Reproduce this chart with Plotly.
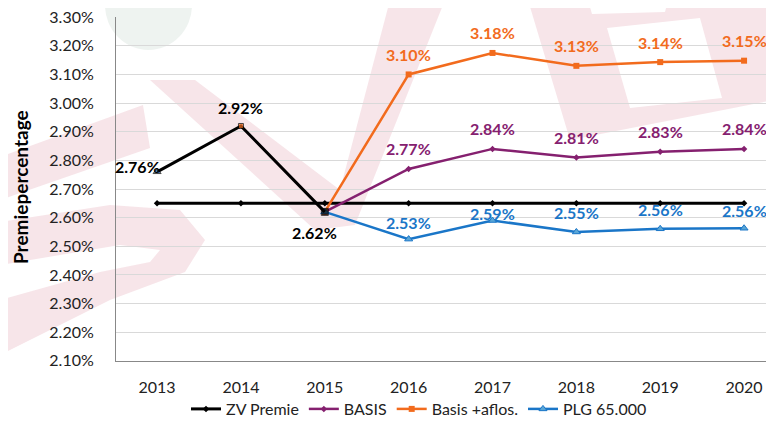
import plotly.graph_objects as go

years = [2013, 2014, 2015, 2016, 2017, 2018, 2019, 2020]
zv_premie = [2.65, 2.65, 2.65, 2.65, 2.65, 2.65, 2.65, 2.65]
hist_years = [2013, 2014, 2015]
historie = [2.76, 2.92, 2.62]
proj_years = [2015, 2016, 2017, 2018, 2019, 2020]
basis = [2.62, 2.77, 2.84, 2.81, 2.83, 2.84]
basis_aflos = [2.62, 3.10, 3.175, 3.13, 3.143, 3.148]
plg = [2.62, 2.525, 2.59, 2.55, 2.561, 2.563]
basis_lbl = [None, "2.77%", "2.84%", "2.81%", "2.83%", "2.84%"]
aflos_lbl = [None, "3.10%", "3.18%", "3.13%", "3.14%", "3.15%"]
plg_lbl = [None, "2.53%", "2.59%", "2.55%", "2.56%", "2.56%"]
hist_lbl = ["2.76%", "2.92%", "2.62%"]
y_ticks = [2.10, 2.20, 2.30, 2.40, 2.50, 2.60, 2.70, 2.80, 2.90, 3.00, 3.10, 3.20, 3.30]
y_ticktext = [f"{v:.2f}%" for v in y_ticks]

BLACK = "#000000"
PURPLE = "#85206f"
ORANGE = "#f26b1d"
BLUE = "#1a76c8"
FONT = "Lato"

# the page body adds an 8px offset; the figure is laid out in reference pixels minus 8
OFF = 8
W, H = 774 - OFF, 421 - OFF
L, R, T, B = 116 - OFF, 0, 17 - OFF, 421 - 361
PW, PH = W - L - R, H - T - B


def px(x):
    return (x - OFF - L) / PW


def py(y):
    return (H - B - (y - OFF)) / PH


def path(pts):
    return "M " + " L ".join(f"{px(x):.4f},{py(y):.4f}" for x, y in pts) + " Z"


fig = go.Figure()

fig.add_trace(go.Scatter(x=years, y=zv_premie, name="ZV Premie", mode="lines+markers",
                         line=dict(color=BLACK, width=3),
                         marker=dict(symbol="diamond", size=5, color=BLACK)))
fig.add_trace(go.Scatter(x=proj_years, y=basis, name="BASIS", mode="lines+markers",
                         line=dict(color=PURPLE, width=2.5),
                         marker=dict(symbol="diamond", size=5, color=PURPLE)))
fig.add_trace(go.Scatter(x=proj_years, y=basis_aflos, name="Basis +aflos.", mode="lines+markers",
                         line=dict(color=ORANGE, width=2.5),
                         marker=dict(symbol="square", size=6, color=ORANGE)))
fig.add_trace(go.Scatter(x=proj_years, y=plg, name="PLG 65.000", mode="lines+markers",
                         line=dict(color=BLUE, width=2.5),
                         marker=dict(symbol="triangle-up", size=7, color="#5aa6d6",
                                     line=dict(color=BLUE, width=1))))
fig.add_trace(go.Scatter(x=hist_years, y=historie, mode="lines+markers", showlegend=False,
                         line=dict(color=BLACK, width=3),
                         marker=dict(symbol=["triangle-up", "square", "square"], size=[7, 5, 7],
                                     color=["#2a6fb0", ORANGE, BLACK])))

LBL = dict(size=16, family=FONT, weight="bold")
ann = []
for x, y, t in zip(proj_years, basis_aflos, aflos_lbl):
    if t:
        ann.append(dict(x=x, y=y, text=t, showarrow=False, yshift=20,
                        font=dict(color=ORANGE, **LBL)))
for x, y, t in zip(proj_years, basis, basis_lbl):
    if t:
        ann.append(dict(x=x, y=y, text=t, showarrow=False, yshift=20,
                        font=dict(color=PURPLE, **LBL)))
plg_shift = [0, 17, 7, 19, 19, 18]
for x, y, t, s in zip(proj_years, plg, plg_lbl, plg_shift):
    if t:
        ann.append(dict(x=x, y=y, text=t, showarrow=False, yshift=s,
                        font=dict(color=BLUE, **LBL)))
hist_shift = [(-20, 5), (0, 18), (-10, -21)]
for x, y, t, (sx, sy) in zip(hist_years, historie, hist_lbl, hist_shift):
    ann.append(dict(x=x, y=y, text=t, showarrow=False, xshift=sx, yshift=sy,
                    font=dict(color=BLACK, **LBL)))

ann.append(dict(xref="paper", yref="paper", x=px(20), y=py(187), xanchor="center",
                yanchor="middle", text="Premiepercentage", textangle=-90, showarrow=False,
                font=dict(size=19, color=BLACK, family=FONT, weight="bold")))

pink = "rgba(190,45,75,0.12)"
shapes = [
    dict(type="circle", xref="paper", yref="paper", x0=px(105), x1=px(192), y0=py(-40), y1=py(50),
         fillcolor="rgba(200,215,205,0.3)", line=dict(width=0), layer="below"),
    # V
    dict(type="path", xref="paper", yref="paper",
         path=path([(150, 80), (195, 80), (340, 190), (390, 0), (445, 0), (355, 225), (315, 230)]),
         fillcolor=pink, line=dict(width=0), layer="below"),
    # S upper band
    dict(type="path", xref="paper", yref="paper",
         path=path([(0, 157), (143, 105), (150, 148), (0, 200)]),
         fillcolor=pink, line=dict(width=0), layer="below"),
    # S lower curve
    dict(type="path", xref="paper", yref="paper",
         path=path([(0, 222), (110, 205), (180, 210), (205, 240), (185, 272), (110, 300), (0, 355),
                    (0, 300), (100, 272), (150, 262), (160, 250), (120, 245), (0, 265)]),
         fillcolor=pink, line=dict(width=0), layer="below"),
    # B
    dict(type="path", xref="paper", yref="paper",
         path=path([(528, 0), (774, 0), (774, 100), (570, 140)]),
         fillcolor=pink, line=dict(width=0), layer="below"),
    dict(type="path", xref="paper", yref="paper",
         path=path([(607, 28), (700, 18), (722, 98), (630, 108)]),
         fillcolor="white", line=dict(width=0), layer="below"),
    dict(type="path", xref="paper", yref="paper",
         path=path([(588, 0), (668, 0), (665, 12), (592, 14)]),
         fillcolor="white", line=dict(width=0), layer="below"),
]

fig.update_layout(
    width=W, height=H,
    margin=dict(l=L, r=R, t=T, b=B, autoexpand=False),
    paper_bgcolor="white", plot_bgcolor="rgba(0,0,0,0)",
    font=dict(family=FONT, size=16, color="#222222"),
    showlegend=True,
    legend=dict(orientation="h", x=px(419), xanchor="center", y=py(409), yanchor="middle",
                font=dict(size=16, color="#222222", family=FONT), itemwidth=30,
                bgcolor="rgba(0,0,0,0)"),
    annotations=ann,
    shapes=shapes,
)
fig.update_xaxes(range=[2012.51, 2020.357], tickvals=years, showgrid=False, showline=True,
                 linecolor="#888888", linewidth=1, ticks="", ticklabelstandoff=12,
                 automargin=False, tickfont=dict(size=16, color="#222222", family=FONT),
                 zeroline=False)
fig.update_yaxes(range=[2.0995, 3.3005], tickvals=y_ticks, ticktext=y_ticktext,
                 showgrid=True, gridcolor="#d9d9d9", gridwidth=1, showline=True,
                 linecolor="#888888", linewidth=1, ticks="", ticklabelstandoff=18,
                 ticklabeloverflow="allow",
                 automargin=False, tickfont=dict(size=16, color="#222222", family=FONT),
                 zeroline=False)

fig.write_html("out.html")
